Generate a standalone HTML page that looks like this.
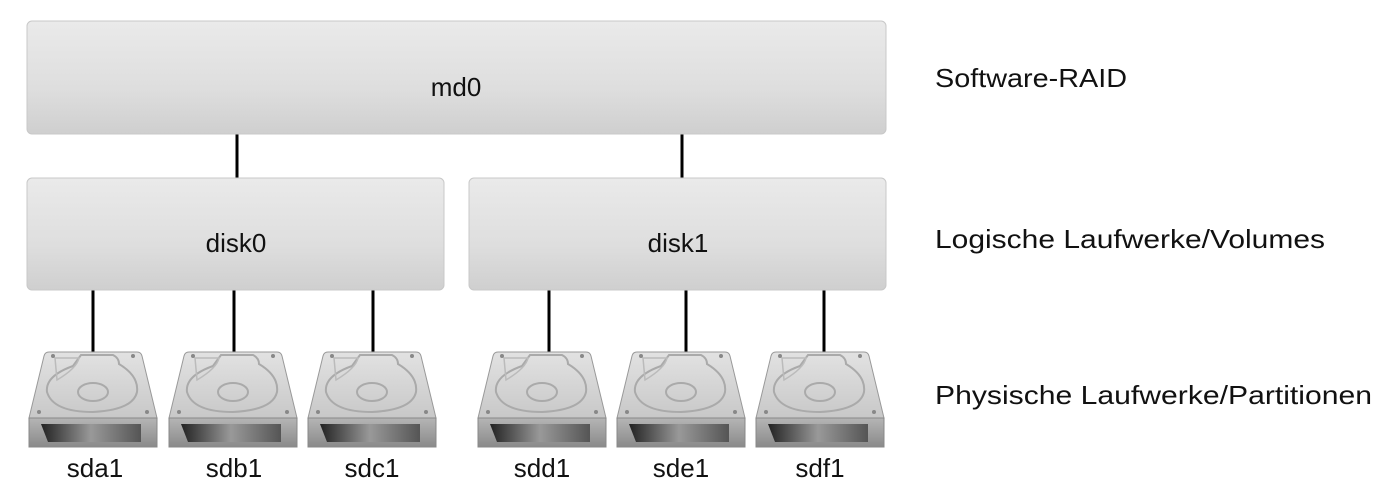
<!DOCTYPE html>
<html><head><meta charset="utf-8"><style>
html,body{margin:0;padding:0;background:#fff;width:1400px;height:500px;overflow:hidden}
</style></head><body>
<svg width="1400" height="500" viewBox="0 0 1400 500" xmlns="http://www.w3.org/2000/svg">
<defs>
<linearGradient id="box" x1="0" y1="0" x2="0" y2="1">
<stop offset="0" stop-color="#eaeaea"/><stop offset="0.6" stop-color="#dedede"/><stop offset="1" stop-color="#cfcfcf"/>
</linearGradient>
<linearGradient id="top" x1="0" y1="0" x2="0" y2="1">
<stop offset="0" stop-color="#e2e2e2"/><stop offset="1" stop-color="#c8c8c8"/>
</linearGradient>
<linearGradient id="front" x1="0" y1="0" x2="0" y2="1">
<stop offset="0" stop-color="#b5b5b5"/><stop offset="1" stop-color="#8a8a8a"/>
</linearGradient>
<linearGradient id="slot" x1="0" y1="0" x2="1" y2="0">
<stop offset="0" stop-color="#222"/><stop offset="0.5" stop-color="#999"/><stop offset="1" stop-color="#555"/>
</linearGradient>
<g id="hdd">
<path d="M-44,352 L44,352 Q48,352 49,356 L64,418 L-64,418 L-49,356 Q-48,352 -44,352 Z" fill="url(#top)" stroke="#999" stroke-width="1"/>
<rect x="-64" y="418" width="128" height="29" fill="url(#front)" stroke="#888" stroke-width="1"/>
<path d="M-52,424 L48,424 L48,442 L-45,442 Z" fill="url(#slot)"/>
<path d="M-12,355 L20,355 Q26,358 26,364 Q46,376 44,392 Q40,410 0,412 Q-40,412 -46,392 Q-48,376 -20,366 Z" fill="none" stroke="#aaa" stroke-width="2"/>
<ellipse cx="0" cy="392" rx="15" ry="9" fill="none" stroke="#aaa" stroke-width="2"/>
<path d="M-38,358 L-14,358 Q-16,368 -36,380 Z" fill="none" stroke="#bbb" stroke-width="1.5"/>
<circle cx="-40" cy="356" r="2" fill="#888"/><circle cx="40" cy="356" r="2" fill="#888"/>
<circle cx="-54" cy="412" r="2" fill="#888"/><circle cx="54" cy="412" r="2" fill="#888"/>
</g>
</defs>
<g stroke="#000" stroke-width="3">
<line x1="237" y1="134" x2="237" y2="178"/><line x1="682" y1="134" x2="682" y2="178"/>
<line x1="93" y1="290" x2="93" y2="352"/><line x1="234" y1="290" x2="234" y2="352"/>
<line x1="373" y1="290" x2="373" y2="352"/><line x1="549" y1="290" x2="549" y2="352"/>
<line x1="686" y1="290" x2="686" y2="352"/><line x1="824" y1="290" x2="824" y2="352"/>
</g>
<rect x="27" y="21" width="859" height="113" rx="5" fill="url(#box)" stroke="#c8c8c8"/>
<rect x="27" y="178" width="417" height="112" rx="5" fill="url(#box)" stroke="#c8c8c8"/>
<rect x="469" y="178" width="417" height="112" rx="5" fill="url(#box)" stroke="#c8c8c8"/>
<use href="#hdd" x="93"/><use href="#hdd" x="233"/><use href="#hdd" x="372"/>
<use href="#hdd" x="542"/><use href="#hdd" x="681"/><use href="#hdd" x="820"/>
<g font-family="Liberation Sans, DejaVu Sans, sans-serif" font-size="26" fill="#111">
<text x="456" y="96" text-anchor="middle">md0</text>
<text x="236" y="252" text-anchor="middle">disk0</text>
<text x="678" y="252" text-anchor="middle">disk1</text>
<g text-anchor="middle">
<text x="95" y="477">sda1</text><text x="234" y="477">sdb1</text><text x="372" y="477">sdc1</text>
<text x="542" y="477">sdd1</text><text x="681" y="477">sde1</text><text x="820" y="477">sdf1</text>
</g>
<text x="935" y="87" textLength="192" lengthAdjust="spacingAndGlyphs">Software-RAID</text>
<text x="935" y="248" textLength="390" lengthAdjust="spacingAndGlyphs">Logische Laufwerke/Volumes</text>
<text x="935" y="404" textLength="437" lengthAdjust="spacingAndGlyphs">Physische Laufwerke/Partitionen</text>
</g>
</svg>
</body></html>
